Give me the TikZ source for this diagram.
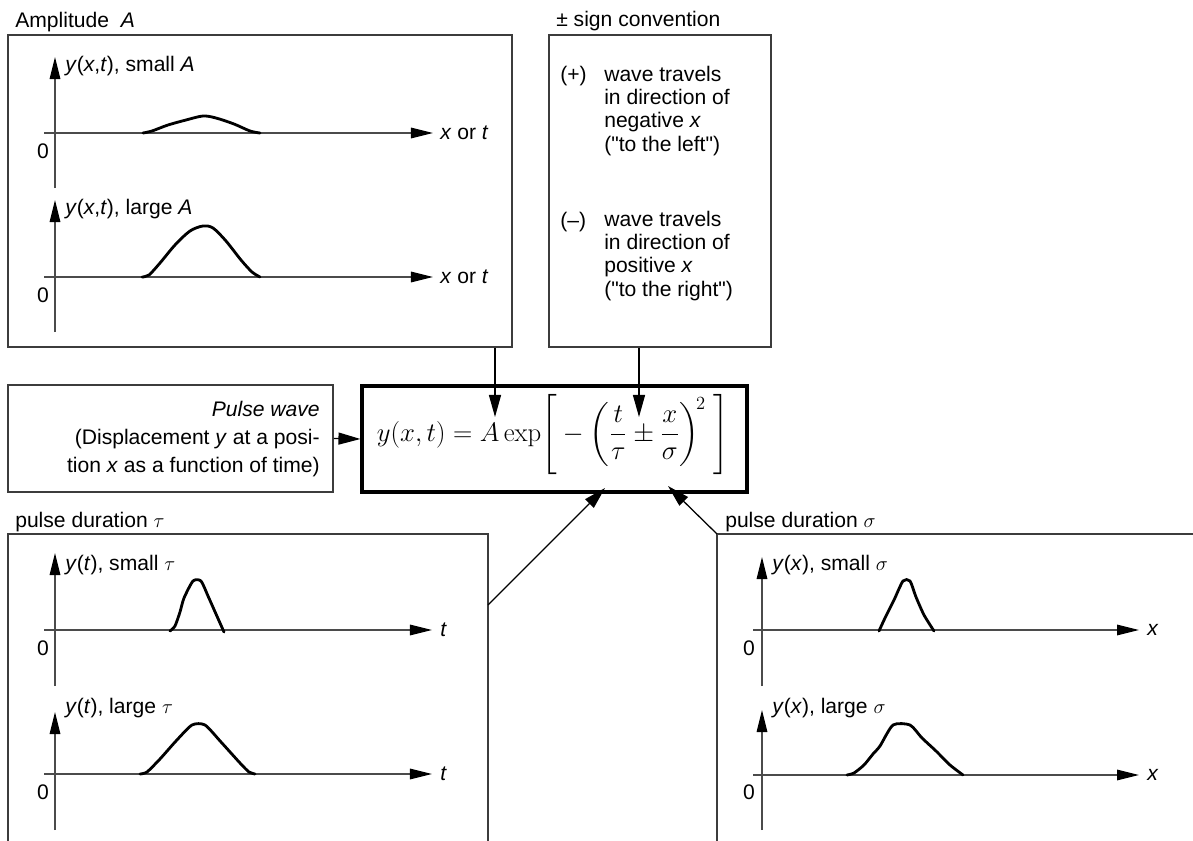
\documentclass[tikz,border=0pt]{standalone}
\usepackage{amsmath}
\usepackage[no-math]{fontspec}
\setmainfont{Liberation Sans}
\usetikzlibrary{arrows.meta,positioning,fit}
\definecolor{boxgray}{RGB}{60,60,60}
\definecolor{axisgray}{RGB}{75,75,75}
\tikzset{
  panel/.style={draw=boxgray, line width=1.2pt},
  axisline/.style={draw=axisgray, line width=1.2pt, -{Triangle[length=5.5mm,width=2.6mm,color=black]}},
  pulse/.style={line width=2pt, line join=round, line cap=round},
  conn/.style={line width=0.9pt, -{Triangle[length=5.5mm,width=3mm]}},
  lbl/.style={inner sep=0pt, anchor=west},
  zero/.style={inner sep=0pt},
}
\begin{document}
\begin{tikzpicture}[x=0.025cm, y=-0.025cm, font=\fontsize{15pt}{18pt}\selectfont]
  \useasboundingbox (0,0) rectangle (1193,841);

  % Amplitude panel
  \node[fit={(8,35) (512,347)}, inner sep=0pt, panel] (ampbox) {};
  \node[inner sep=0pt, anchor=base west] (amptitle) at (15,28) {Amplitude\ \ \textit{A}};
  \draw[axisline] (55,188) -- (55,57);
  \draw[axisline] (44,133) -- (433,133);
  \node[lbl] (ampsmall) at (65,66) {\textit{y}(\textit{x},\textit{t}), small \textit{A}};
  \node[lbl] (ampsmallx) at (440,133) {\textit{x} or \textit{t}};
  \node[zero] (ampsmallzero) at (43,151) {0};
  \draw[pulse] plot[smooth, tension=0.5] coordinates {(143,133) (152,131) (168,125) (186,120) (203,116) (216,118) (234,124) (250,131) (260,133)};
  \draw[axisline] (55,332) -- (55,200);
  \draw[axisline] (44,277) -- (433,277);
  \node[lbl] (amplarge) at (65,209) {\textit{y}(\textit{x},\textit{t}), large \textit{A}};
  \node[lbl] (amplargex) at (440,277) {\textit{x} or \textit{t}};
  \node[zero] (amplargezero) at (43,295) {0};
  \draw[pulse] plot[smooth, tension=0.5] coordinates {(142,277) (149,275) (160,263) (175,245) (190,231) (203,226) (213,228) (226,241) (241,260) (252,272) (260,277)};

  % Sign convention
  \node[fit={(549,35) (771,347)}, inner sep=0pt, panel] (signbox) {};
  \node[inner sep=0pt, anchor=base west] (signtitle) at (556,27) {± sign convention};
  \node[inner sep=0pt, anchor=base west] (plus) at (560,82) {(+)};
  \node[inner sep=0pt, anchor=base west, align=left, font=\fontsize{15pt}{16.4pt}\selectfont] (plustext) at (604,151) {wave travels\\in direction of\\negative \textit{x}\\(\textquotedbl to the left\textquotedbl)};
  \node[inner sep=0pt, anchor=base west] (minus) at (560,227) {(--)};
  \node[inner sep=0pt, anchor=base west, align=left, font=\fontsize{15pt}{16.4pt}\selectfont] (minustext) at (604,296) {wave travels\\in direction of\\positive \textit{x}\\(\textquotedbl to the right\textquotedbl)};

  % Pulse wave and equation
  \node[fit={(8,385) (333,492)}, inner sep=0pt, panel] (pulsebox) {};
  \node[inner sep=0pt, anchor=base east, align=right, font=\fontsize{15pt}{19.6pt}\selectfont] (pulsetext) at (320,472) {\textit{Pulse wave}\\(Displacement \textit{y} at a posi-\\tion \textit{x} as a function of time)};
  \node[fit={(362,386) (747,492)}, inner sep=0pt, draw, line width=2.2pt] (eqbox) {};
  \node[inner sep=0pt, scale=1.1, font=\fontsize{17.28pt}{21pt}\selectfont] (eqn) at (553,434) {$y(x,t)=A\exp\!\left[\rule[-0.77cm]{0pt}{1.86cm}-\left(\dfrac{t}{\tau}\pm\dfrac{x}{\sigma}\right)^{\!2}\;\right]$};

  % Pulse duration tau
  \draw[panel] (8,841) |- (488,534) -- (488,841);
  \node[inner sep=0pt, anchor=base west] (tautitle) at (15,527) {pulse duration $\tau$};
  \draw[axisline] (55,686) -- (55,553);
  \draw[axisline] (44,630) -- (432,630);
  \node[lbl] (tausmall) at (65,565) {\textit{y}(\textit{t}), small $\tau$};
  \node[lbl] (tausmallx) at (440,630) {\textit{t}};
  \node[zero] (tausmallzero) at (43,648) {0};
  \draw[pulse] plot[smooth, tension=0.4] coordinates {(170,631) (175,626) (180,612) (184,598) (193,581) (201,581) (208,596) (216,614) (224,632)};
  \draw[axisline] (55,830) -- (55,712);
  \draw[axisline] (44,774) -- (432,774);
  \node[lbl] (taularge) at (65,708) {\textit{y}(\textit{t}), large $\tau$};
  \node[lbl] (taulargex) at (440,774) {\textit{t}};
  \node[zero] (taulargezero) at (43,792) {0};
  \draw[pulse] plot[smooth, tension=0.4] coordinates {(140,774) (147,772) (160,759) (176,741) (192,725) (205,725) (221,742) (240,763) (249,772) (255,774)};

  % Pulse duration sigma
  \draw[panel] (717,841) |- (1193,534);
  \node[inner sep=0pt, anchor=base west] (sigtitle) at (725,527) {pulse duration $\sigma$};
  \draw[axisline] (762,686) -- (762,557);
  \draw[axisline] (753,630) -- (1139,630);
  \node[lbl] (sigsmall) at (772,565) {\textit{y}(\textit{x}), small $\sigma$};
  \node[lbl] (sigsmallx) at (1147,630) {\textit{x}};
  \node[zero] (sigsmallzero) at (749,648) {0};
  \draw[pulse] plot[smooth, tension=0.4] coordinates {(879,631) (885,618) (894,600) (903,581) (910,581) (916,597) (924,615) (934,631)};
  \draw[axisline] (762,830) -- (762,710);
  \draw[axisline] (753,775) -- (1139,775);
  \node[lbl] (siglarge) at (772,708) {\textit{y}(\textit{x}), large $\sigma$};
  \node[lbl] (siglargex) at (1147,775) {\textit{x}};
  \node[zero] (siglargezero) at (749,792) {0};
  \draw[pulse] plot[smooth, tension=0.4] coordinates {(847,775) (854,773) (864,765) (873,754) (880,746) (893,725) (910,725) (922,738) (936,751) (950,765) (963,775)};

  % Connectors
  \coordinate (tipA) at (495,417);
  \coordinate (tipPM) at (639,417);
  \coordinate (tauout) at (488,605);
  \coordinate (tipTau) at (605,488);
  \coordinate (sigout) at (717,534);
  \coordinate (tipSig) at (668,486);
  \draw[conn] (ampbox.south -| tipA) -- (tipA);
  \draw[conn] (signbox.south -| tipPM) -- (tipPM);
  \draw[conn] (pulsebox.east) -- (eqbox.west);
  \draw[conn] (tauout) -- (tipTau);
  \draw[conn] (sigout) -- (tipSig);
\end{tikzpicture}
\end{document}
